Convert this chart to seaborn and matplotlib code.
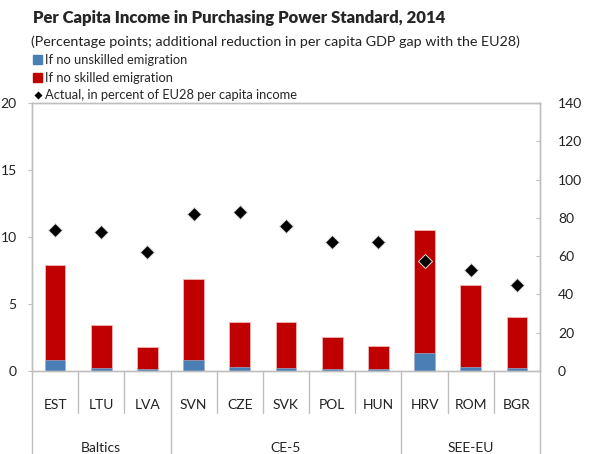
import pandas as pd
import seaborn as sns
import matplotlib.pyplot as plt
from matplotlib.patches import Patch
from matplotlib.lines import Line2D
import matplotlib.transforms as mtransforms

# 数据
countries = ['EST', 'LTU', 'LVA', 'SVN', 'CZE', 'SVK', 'POL', 'HUN', 'HRV', 'ROM', 'BGR']
groups = ['Baltics', 'CE-5', 'SEE-EU']
group_sizes = [3, 5, 3]
unskilled = [0.8, 0.25, 0.15, 0.8, 0.33, 0.25, 0.15, 0.15, 1.35, 0.33, 0.25]
skilled = [7.1, 3.15, 1.65, 6.1, 3.32, 3.4, 2.4, 1.7, 9.2, 6.07, 3.8]
actual = [73.5, 72.6, 62.0, 81.9, 83.0, 75.6, 67.4, 67.4, 57.6, 52.6, 44.9]

BLUE = '#4a7fb5'
RED = '#c00000'
GREY = '#bfbfbf'

sns.set_style('white')
plt.rcParams['font.family'] = ['Lato', 'DejaVu Sans']

df = pd.DataFrame({'country': countries, 'unskilled': unskilled,
                   'skilled': skilled, 'actual': actual})
df['total'] = df['unskilled'] + df['skilled']

fig = plt.figure(figsize=(5.94, 4.54), dpi=100)
ax = fig.add_axes([32 / 594, 83 / 454, 508 / 594, 268 / 454])

# 堆叠柱：先画总高度（红），再盖上蓝色底部
sns.barplot(data=df, x='country', y='total', color=RED, width=0.45,
            edgecolor='#f2b8b8', linewidth=0.6, saturation=1, ax=ax)
sns.barplot(data=df, x='country', y='unskilled', color=BLUE, width=0.45,
            edgecolor='#a9c4e0', linewidth=0.4, saturation=1, ax=ax)
ax.set_ylim(0, 20)
ax.set_yticks([0, 5, 10, 15, 20])
ax.set_xlim(-0.5, len(countries) - 0.5)
ax.set_xlabel('')
ax.set_ylabel('')

ax2 = ax.twinx()
sns.pointplot(data=df, x='country', y='actual', ax=ax2, linestyle='none',
              marker='D', color='black', markersize=6.8,
              markeredgecolor='#dddddd', markeredgewidth=0.7)
ax2.set_ylim(0, 140)
ax2.set_yticks(range(0, 141, 20))
ax2.set_xlim(-0.5, len(countries) - 0.5)
ax2.set_ylabel('')
ax2.set_xlabel('')

for a in (ax, ax2):
    for s in a.spines.values():
        s.set_color(GREY)
        s.set_linewidth(1.0)

ax.tick_params(axis='y', length=3, color=GREY, direction='out', pad=8,
               labelsize=10, labelcolor='#222222')
ax2.tick_params(axis='y', length=3, color=GREY, direction='in', pad=13,
                labelsize=10, labelcolor='#222222')
ax.tick_params(axis='x', length=0, pad=20, labelsize=10, labelcolor='#222222')
ax2.tick_params(axis='x', length=0, labelbottom=False)

# 分类分隔线与分组标签
trans = mtransforms.blended_transform_factory(ax.transData, ax.transAxes)
edges = [-0.5]
for n in group_sizes:
    edges.append(edges[-1] + n)
for i in range(len(countries) + 1):
    x = i - 0.5
    y_end = -0.31 if x in edges else -0.157
    ax.plot([x, x], [0, y_end], transform=trans, color=GREY, lw=1.0,
            clip_on=False)
for g, lo, hi in zip(groups, edges[:-1], edges[1:]):
    ax.text((lo + hi) / 2, -0.287, g, transform=trans, ha='center',
            va='center', fontsize=10, color='#222222')

# 标题与图例
fig.text(33 / 594, 1 - 18 / 454, 'Per Capita Income in Purchasing Power Standard, 2014',
         fontsize=12, fontweight='heavy', va='center', ha='left')
fig.text(31 / 594, 1 - 42 / 454,
         '(Percentage points; additional reduction in per capita GDP gap with the EU28)',
         fontsize=10.3, va='center', ha='left', color='#222222')

handles = [Patch(color=BLUE, label='If no unskilled emigration'),
           Patch(color=RED, label='If no skilled emigration'),
           Line2D([], [], marker='D', color='black', linestyle='none',
                  markersize=5, markeredgecolor='white',
                  label='Actual, in percent of EU28 per capita income')]
fig.legend(handles=handles, loc='upper left', bbox_to_anchor=(33 / 594, 1 - 54 / 454),
           frameon=False, fontsize=9.3, handlelength=0.7, handleheight=0.7,
           handletextpad=0.25, labelspacing=0.43, borderpad=0, borderaxespad=0)

fig.savefig('out.png', dpi=100)
